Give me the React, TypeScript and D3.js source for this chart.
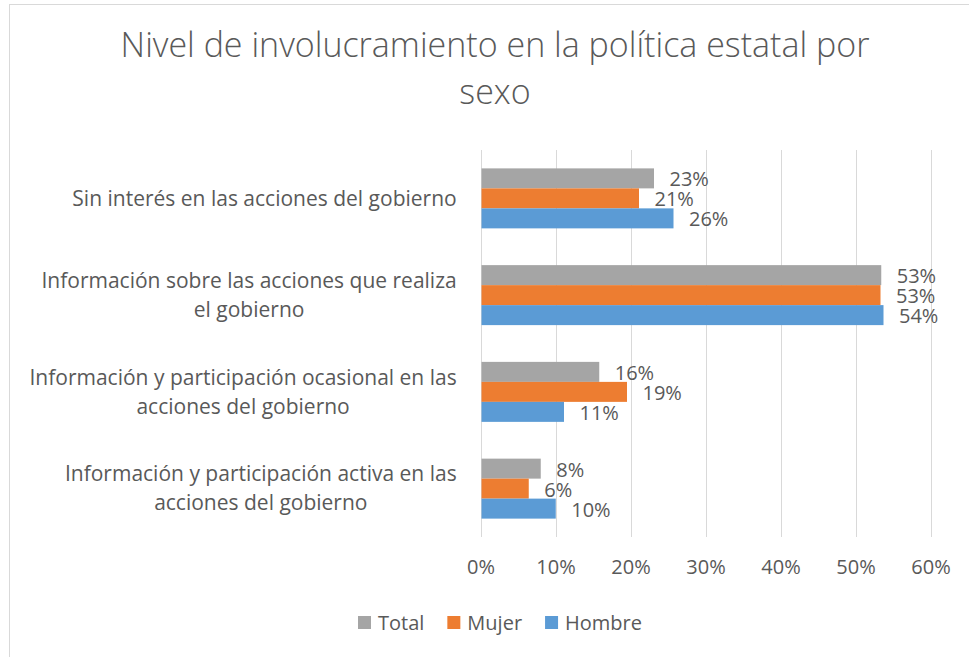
import React, { useEffect, useRef } from "react";
import * as d3 from "d3";

const titleLines = ["Nivel de involucramiento en la política estatal por", "sexo"];
const categories = [
  "Sin interés en las acciones del gobierno",
  "Información sobre las acciones que realiza el gobierno",
  "Información y participación ocasional en las acciones del gobierno",
  "Información y participación activa en las acciones del gobierno",
];
const categoryLines = [
  ["Sin interés en las acciones del gobierno"],
  ["Información sobre las acciones que realiza", "el gobierno"],
  ["Información y participación ocasional en las", "acciones del gobierno"],
  ["Información y participación activa en las", "acciones del gobierno"],
];
const seriesNames = ["Total", "Mujer", "Hombre"];
const seriesColors = ["#A5A5A5", "#ED7D31", "#5B9BD5"];
const totalValues = [23.0, 53.3, 15.7, 7.9];
const mujerValues = [21.0, 53.2, 19.4, 6.3];
const hombreValues = [25.6, 53.6, 11.0, 9.9];
const xTicks = [0, 10, 20, 30, 40, 50, 60];

const FONT = "'Open Sans', 'Noto Sans', sans-serif";
const TEXT = "#595959";

export default function App() {
  const ref = useRef<SVGSVGElement>(null);

  useEffect(() => {
    const svg = d3.select(ref.current);
    svg.selectAll("*").remove();
    const W = 969, H = 657;
    const left = 481, right = 931, top = 150, bottom = 537;
    const seriesValues = [totalValues, mujerValues, hombreValues];

    // border
    svg.append("rect").attr("x", 9.5).attr("y", 4.5).attr("width", W + 20).attr("height", H + 20)
      .attr("fill", "#fff").attr("stroke", "#d9d9d9").attr("stroke-width", 1);

    // title
    const title = svg.append("text").attr("font-family", FONT).attr("font-weight", 300)
      .attr("font-size", 34).attr("fill", TEXT).attr("text-anchor", "middle");
    titleLines.forEach((l, i) => {
      title.append("tspan").attr("x", 495).attr("y", 57.3 + i * 46.7).text(l);
    });

    const x = d3.scaleLinear().domain([0, 60]).range([left, right]);
    const y0 = d3.scaleBand<string>().domain(categories).range([top, bottom])
      .paddingInner(0.38).paddingOuter(0.19);
    const y1 = d3.scaleBand<string>().domain(seriesNames).range([0, y0.bandwidth()]);

    // gridlines
    svg.append("g").selectAll("line").data(xTicks).join("line")
      .attr("x1", (d) => x(d) + 0.5).attr("x2", (d) => x(d) + 0.5)
      .attr("y1", top).attr("y2", bottom)
      .attr("stroke", "#d9d9d9").attr("stroke-width", 1);

    // tick labels
    svg.append("g").selectAll("text").data(xTicks).join("text")
      .attr("x", (d) => x(d)).attr("y", 567).attr("dy", "0.35em")
      .attr("text-anchor", "middle").attr("font-family", FONT).attr("font-size", 20)
      .attr("fill", TEXT).text((d) => d + "%");

    // bars
    const fmt = d3.format(".0f");
    seriesNames.forEach((s, si) => {
      const g = svg.append("g");
      const vals = seriesValues[si];
      g.selectAll("rect").data(vals).join("rect")
        .attr("x", x(0) + 0.5)
        .attr("y", (_d, i) => (y0(categories[i]) as number) + (y1(s) as number))
        .attr("width", (d) => x(d) - x(0))
        .attr("height", y1.bandwidth())
        .attr("fill", seriesColors[si]);
      g.selectAll("text").data(vals).join("text")
        .attr("x", (d) => x(d) + 16)
        .attr("y", (_d, i) => (y0(categories[i]) as number) + (y1(s) as number) + y1.bandwidth() / 2 + 1)
        .attr("dy", "0.35em")
        .attr("font-family", FONT).attr("font-size", 20).attr("fill", TEXT)
        .text((d) => fmt(d) + "%");
    });

    // category labels
    const catRight = 456.7;
    const lineH = 29;
    categoryLines.forEach((lines, i) => {
      const cy = (y0(categories[i]) as number) + y0.bandwidth() / 2;
      const t = svg.append("text").attr("font-family", FONT).attr("font-size", 21)
        .attr("fill", TEXT).attr("text-anchor", "middle");
      const spans = lines.map((l, li) =>
        t.append("tspan").attr("y", cy + (li - (lines.length - 1) / 2) * lineH).attr("dy", "0.35em").text(l)
      );
      const maxW = Math.max(...spans.map((sp) => (sp.node() as SVGTSpanElement).getComputedTextLength()));
      spans.forEach((sp) => sp.attr("x", catRight - maxW / 2));
    });

    // legend
    const legend = svg.append("g");
    const items = seriesNames.map((name, i) => {
      const g = legend.append("g");
      g.append("rect").attr("x", 0).attr("y", -6.5).attr("width", 13).attr("height", 13)
        .attr("fill", seriesColors[i]);
      const t = g.append("text").attr("x", 20).attr("dy", "0.35em").attr("font-family", FONT)
        .attr("font-size", 20).attr("fill", TEXT).text(name);
      const w = 20 + (t.node() as SVGTextElement).getComputedTextLength();
      return { g, w };
    });
    const gap = 23;
    const totalW = d3.sum(items, (d) => d.w) + gap * (items.length - 1);
    let cx = 500 - totalW / 2;
    items.forEach((it) => {
      it.g.attr("transform", `translate(${cx},622.5)`);
      cx += it.w + gap;
    });
  }, []);

  return (
    <svg ref={ref} width={969} height={657}
      style={{ position: "absolute", left: 0, top: 0, background: "#fff" }} />
  );
}
